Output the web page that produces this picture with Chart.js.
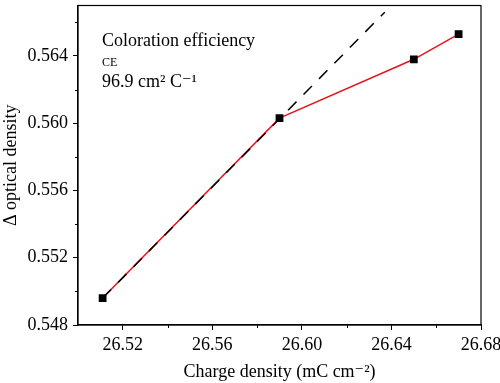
<!DOCTYPE html>
<html><head><meta charset="utf-8">
<script src="https://cdn.jsdelivr.net/npm/chart.js@4/dist/chart.umd.min.js"></script>
<style>html,body{margin:0;padding:0;background:#fff}#wrap{width:500px;height:383px}</style>
</head><body><div id="wrap"><canvas id="c" width="500" height="383"></canvas></div>
<script>
const chargeDensity = [26.511, 26.590, 26.650, 26.670];
const opticalDensity = [0.5496, 0.5603, 0.5638, 0.5653];
const fitX = [26.511, 26.637];
const fitY = [0.5496, 0.5666];
const xRange = [26.50, 26.68];
const yRange = [0.548, 0.567];
const annotation = ["Coloration efficiency", "CE", "96.9 cm² C⁻¹"];

const FONT = "'Liberation Serif', 'DejaVu Serif', serif";

const framePlugin = {
  id: 'frame',
  afterDraw(chart) {
    const {ctx, chartArea: a, scales} = chart;
    ctx.save();
    ctx.strokeStyle = '#000'; ctx.lineWidth = 1.2;
    ctx.strokeRect(a.left, a.top, a.right - a.left, a.bottom - a.top);
    ctx.lineWidth = 1;
    ctx.beginPath();
    for (let k = 2; xRange[0] + k * 0.02 <= xRange[1] + 1e-9; k += 2) {
      const px = Math.round(scales.x.getPixelForValue(xRange[0] + k * 0.02)) + 0.5;
      ctx.moveTo(px, a.bottom); ctx.lineTo(px, a.bottom + 3);
    }
    for (let k = 1; yRange[0] + k * 0.002 <= yRange[1] + 1e-9; k += 2) {
      const py = Math.round(scales.y.getPixelForValue(yRange[0] + k * 0.002)) + 0.5;
      ctx.moveTo(a.left - 3, py); ctx.lineTo(a.left, py);
    }
    ctx.stroke();
    ctx.fillStyle = '#000';
    ctx.textBaseline = 'alphabetic';
    ctx.font = '18px ' + FONT;
    ctx.fillText(annotation[0], a.left + 24, a.top + 40);
    ctx.font = '12px ' + FONT;
    ctx.fillText(annotation[1], a.left + 24, a.top + 60);
    ctx.font = '18px ' + FONT;
    ctx.fillText(annotation[2], a.left + 24, a.top + 81);
    ctx.restore();
  }
};

const chart = new Chart(document.getElementById('c'), {
  type: 'scatter',
  data: {
    datasets: [
      {
        label: 'data',
        data: chargeDensity.map((x, i) => ({x, y: opticalDensity[i]})),
        showLine: true,
        borderColor: '#e8141b',
        borderWidth: 1.5,
        pointStyle: 'rect',
        pointRadius: 5.5,
        pointHoverRadius: 5.5,
        pointBackgroundColor: '#000',
        pointBorderColor: '#000',
        pointBorderWidth: 0,
        order: 2
      },
      {
        label: 'fit',
        data: fitX.map((x, i) => ({x, y: fitY[i]})),
        showLine: true,
        borderColor: '#000',
        borderWidth: 1.5,
        borderDash: [12, 10],
        pointRadius: 0,
        order: 1
      }
    ]
  },
  options: {
    responsive: false,
    animation: false,
    layout: {padding: {top: 1, right: 19, left: 0, bottom: 0}},
    plugins: {legend: {display: false}, tooltip: {enabled: false}},
    scales: {
      x: {
        type: 'linear',
        min: xRange[0], max: xRange[1],
        afterFit(s) { s.height = 58; s.paddingLeft = 0; s.paddingRight = 0; },
        grid: {display: true, drawOnChartArea: false, tickLength: 5, color: '#000',
          tickColor: (c) => { const k = Math.round((c.tick.value - xRange[0]) / 0.02); return (k % 2 === 1) ? '#000' : 'rgba(0,0,0,0)'; }},
        border: {display: true, color: '#000', width: 1.2},
        ticks: {
          stepSize: 0.02,
          color: '#000',
          font: {family: FONT, size: 18},
          padding: 4,
          maxRotation: 0,
          autoSkip: false,
          callback: (v) => { const k = Math.round((v - xRange[0]) / 0.02); return (k % 2 === 1) ? v.toFixed(2) : ''; }
        },
        title: {display: true, text: 'Charge density (mC cm⁻²)', color: '#000', font: {family: FONT, size: 18}, padding: {top: 2, bottom: 0}}
      },
      y: {
        type: 'linear',
        min: yRange[0], max: yRange[1],
        afterFit(s) { s.width = 78; s.paddingTop = 0; s.paddingBottom = 0; },
        grid: {display: true, drawOnChartArea: false, tickLength: 5, color: '#000',
          tickColor: (c) => { const k = Math.round((c.tick.value - yRange[0]) / 0.002); return (k % 2 === 0) ? '#000' : 'rgba(0,0,0,0)'; }},
        border: {display: true, color: '#000', width: 1.2},
        ticks: {
          stepSize: 0.002,
          includeBounds: false,
          color: '#000',
          font: {family: FONT, size: 18},
          padding: 5,
          autoSkip: false,
          callback: (v) => { const k = Math.round((v - yRange[0]) / 0.002); return (k % 2 === 0) ? v.toFixed(3) : ''; }
        },
        title: {display: true, text: 'Δ optical density', color: '#000', font: {family: FONT, size: 18}, padding: {top: 0, bottom: 0}}
      }
    }
  },
  plugins: [framePlugin]
});
</script>
</body></html>
